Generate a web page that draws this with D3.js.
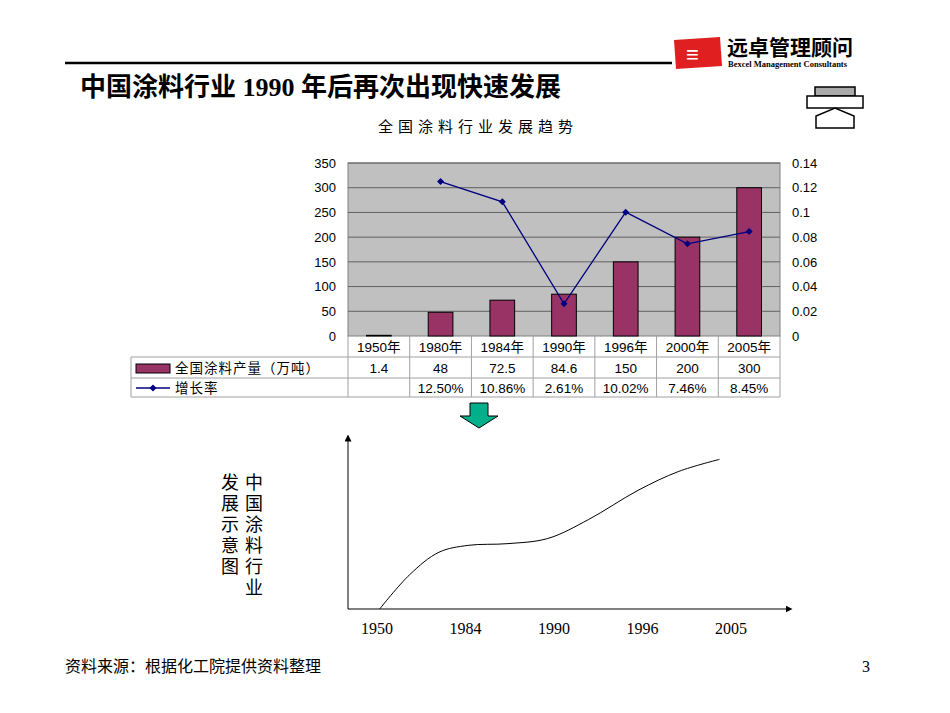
<!DOCTYPE html>
<html><head><meta charset="utf-8">
<script src="https://cdn.jsdelivr.net/npm/d3@7"></script>
<style>body{margin:0;background:#fff}</style>
</head><body>
<script>
const categories = ["1950年","1980年","1984年","1990年","1996年","2000年","2005年"]
const output = [1.4, 48, 72.5, 84.6, 150, 200, 300]
const growth = [null, 0.125, 0.1086, 0.0261, 0.1002, 0.0746, 0.0845]
const growthLabels = ["", "12.50%", "10.86%", "2.61%", "10.02%", "7.46%", "8.45%"]
const leftTicks = [0, 50, 100, 150, 200, 250, 300, 350]
const rightTicks = [0, 0.02, 0.04, 0.06, 0.08, 0.1, 0.12, 0.14]
const sketchYears = ["1950", "1984", "1990", "1996", "2005"]
const sketchCurve = [[0.03,0],[0.37,20],[0.7,33],[1.03,37],[1.48,38],[1.93,41],[2.39,52],[2.95,69],[3.41,80],[3.87,87]]

const W = 950, H = 713
const svg = d3.select("body").append("svg").attr("width", W).attr("height", H)
  .style("font-family", "'Liberation Sans', Arial, sans-serif")

// header
svg.append("line").attr("x1", 65).attr("x2", 672).attr("y1", 63).attr("y2", 63)
  .attr("stroke", "#000").attr("stroke-width", 2.5)
svg.append("text").attr("x", 80).attr("y", 96).attr("font-size", 26).attr("font-weight", "bold")
  .attr("font-family", "'Liberation Serif', 'Noto Sans CJK SC', serif").text("中国涂料行业 1990 年后再次出现快速发展")
// logo
const logo = svg.append("g")
logo.append("path").attr("d", "M674,40 L720,37 L722,66 L676,69 Z").attr("fill", "#e02020")
logo.append("text").attr("x", 686).attr("y", 62).attr("fill", "#fff").attr("font-size", 22).attr("font-weight", "bold").text("≡")
logo.append("text").attr("x", 727).attr("y", 55).attr("font-size", 21).attr("font-weight", "bold")
  .attr("font-family", "'Noto Sans CJK SC'").text("远卓管理顾问")
logo.append("text").attr("x", 728).attr("y", 67).attr("font-size", 8.5).attr("font-weight", "bold")
  .attr("font-family", "'Liberation Serif', serif").text("Bexcel Management Consultants")
// icon
const ic = svg.append("g").attr("fill", "#fff").attr("stroke", "#000").attr("stroke-width", 1.5)
ic.append("rect").attr("x", 815).attr("y", 87).attr("width", 40).attr("height", 9).attr("fill", "#aaa")
ic.append("rect").attr("x", 807).attr("y", 96).attr("width", 56).attr("height", 12)
ic.append("path").attr("d", "M816,128 L816,116 L835,108 L854,116 L854,128 Z")

// chart title
svg.append("text").attr("x", 478).attr("y", 132).attr("text-anchor", "middle").attr("font-size", 15)
  .attr("font-family", "'Noto Sans CJK SC'").attr("letter-spacing", 5).text("全国涂料行业发展趋势")

const pL = 348, pR = 780, pT = 163, pB = 336
const x = d3.scaleBand().domain(categories).range([pL, pR])
const y = d3.scaleLinear().domain([0, 350]).range([pB, pT])
const y2 = d3.scaleLinear().domain([0, 0.14]).range([pB, pT])

svg.append("rect").attr("x", pL).attr("y", pT).attr("width", pR - pL).attr("height", pB - pT)
  .attr("fill", "#c0c0c0").attr("stroke", "#808080")
svg.append("g").selectAll("line").data(leftTicks.slice(1)).join("line")
  .attr("x1", pL).attr("x2", pR).attr("y1", d => y(d)).attr("y2", d => y(d)).attr("stroke", "#606060")
svg.append("g").attr("transform", `translate(${pL},0)`).call(d3.axisLeft(y).tickValues(leftTicks).tickSize(0).tickPadding(12))
  .call(g => { g.select(".domain").remove(); g.selectAll("text").attr("font-size", 13).attr("fill", "#000") })
svg.append("g").attr("transform", `translate(${pR},0)`).call(d3.axisRight(y2).tickValues(rightTicks).tickSize(0).tickPadding(12).tickFormat(d => String(+d.toFixed(2))))
  .call(g => { g.select(".domain").remove(); g.selectAll("text").attr("font-size", 13).attr("fill", "#000") })

svg.append("g").selectAll("rect").data(output).join("rect")
  .attr("x", (d, i) => x(categories[i]) + x.bandwidth() * 0.3).attr("width", x.bandwidth() * 0.4)
  .attr("y", d => y(d)).attr("height", d => pB - y(d))
  .attr("fill", "#993366").attr("stroke", "#000").attr("stroke-width", 1)

const pts = growth.map((g, i) => [x(categories[i]) + x.bandwidth() / 2, g]).filter(p => p[1] != null)
svg.append("path").datum(pts).attr("fill", "none").attr("stroke", "#000080").attr("stroke-width", 1.3)
  .attr("d", d3.line().x(d => d[0]).y(d => y2(d[1])))
svg.append("g").selectAll("path").data(pts).join("path")
  .attr("transform", d => `translate(${d[0]},${y2(d[1])})`).attr("d", "M0,-3.5L3.5,0L0,3.5L-3.5,0Z").attr("fill", "#000080")

// data table
const tl = 131, rows = [336, 357, 378, 397]
const tg = svg.append("g").attr("stroke", "#a0a0a0").attr("stroke-width", 1)
rows.slice(1).forEach(r => tg.append("line").attr("x1", tl).attr("x2", pR).attr("y1", r).attr("y2", r))
tg.append("line").attr("x1", tl).attr("x2", tl).attr("y1", 357).attr("y2", 397)
categories.forEach(c => tg.append("line").attr("x1", x(c)).attr("x2", x(c)).attr("y1", pB).attr("y2", 397))
tg.append("line").attr("x1", pR).attr("x2", pR).attr("y1", pB).attr("y2", 397)
const cell = (txt, cx, cy) => svg.append("text").attr("x", cx).attr("y", cy).attr("text-anchor", "middle")
  .attr("font-size", 13.5).attr("font-family", "'Liberation Sans','Noto Sans CJK SC'").text(txt)
categories.forEach((c, i) => {
  cell(c, x(c) + x.bandwidth() / 2, 352)
  cell(String(output[i]), x(c) + x.bandwidth() / 2, 373)
  cell(growthLabels[i], x(c) + x.bandwidth() / 2, 393)
})
svg.append("rect").attr("x", 136).attr("y", 364).attr("width", 34).attr("height", 9).attr("fill", "#993366").attr("stroke", "#000")
svg.append("text").attr("x", 175).attr("y", 373).attr("font-size", 13.5).attr("letter-spacing", 1).attr("font-family", "'Noto Sans CJK SC'").text("全国涂料产量（万吨）")
svg.append("line").attr("x1", 136).attr("x2", 170).attr("y1", 388).attr("y2", 388).attr("stroke", "#000080").attr("stroke-width", 1.3)
svg.append("path").attr("transform", "translate(153,388)").attr("d", "M0,-3.5L3.5,0L0,3.5L-3.5,0Z").attr("fill", "#000080")
svg.append("text").attr("x", 175).attr("y", 393).attr("font-size", 13.5).attr("letter-spacing", 1).attr("font-family", "'Noto Sans CJK SC'").text("增长率")

// green arrow
svg.append("path").attr("d", "M470,403 L488,403 L488,416 L498,416 L479,428 L460,416 L470,416 Z")
  .attr("fill", "#00b08a").attr("stroke", "#000").attr("stroke-width", 1)

// sketch chart
const sx = d3.scaleLinear().domain([0, 4]).range([377, 731])
const sy = d3.scaleLinear().domain([0, 100]).range([609, 437])
svg.append("defs").append("marker").attr("id", "ar").attr("viewBox", "0 0 10 10").attr("refX", 5).attr("refY", 5)
  .attr("markerWidth", 7).attr("markerHeight", 7).attr("orient", "auto")
  .append("path").attr("d", "M0,0L10,5L0,10Z").attr("fill", "#000")
svg.append("line").attr("x1", 348).attr("x2", 348).attr("y1", 609).attr("y2", 438).attr("stroke", "#000").attr("marker-end", "url(#ar)")
svg.append("line").attr("x1", 348).attr("x2", 789).attr("y1", 609).attr("y2", 609).attr("stroke", "#000").attr("marker-end", "url(#ar)")
svg.append("path").datum(sketchCurve).attr("fill", "none").attr("stroke", "#000").attr("stroke-width", 1)
  .attr("d", d3.line().x(d => sx(d[0])).y(d => sy(d[1])).curve(d3.curveCatmullRom))
svg.append("g").selectAll("text").data(sketchYears).join("text")
  .attr("x", (d, i) => sx(i)).attr("y", 634).attr("text-anchor", "middle").attr("font-size", 16)
  .attr("font-family", "'Liberation Serif', serif").text(d => d)
const vert = (txt, cx, cy) => svg.append("g").selectAll("text").data([...txt]).join("text")
  .attr("x", cx).attr("y", (d, i) => cy + i * 21).attr("text-anchor", "middle").attr("font-size", 18)
  .attr("font-family", "'Noto Sans CJK SC'").text(d => d)
vert("中国涂料行业", 254, 489)
vert("发展示意图", 230, 489)

// footer
svg.append("text").attr("x", 65).attr("y", 672).attr("font-size", 16).attr("font-family", "'Noto Sans CJK SC'").text("资料来源：根据化工院提供资料整理")
svg.append("text").attr("x", 862).attr("y", 672).attr("font-size", 16).attr("font-family", "'Liberation Serif', serif").text("3")
</script>
</body></html>
